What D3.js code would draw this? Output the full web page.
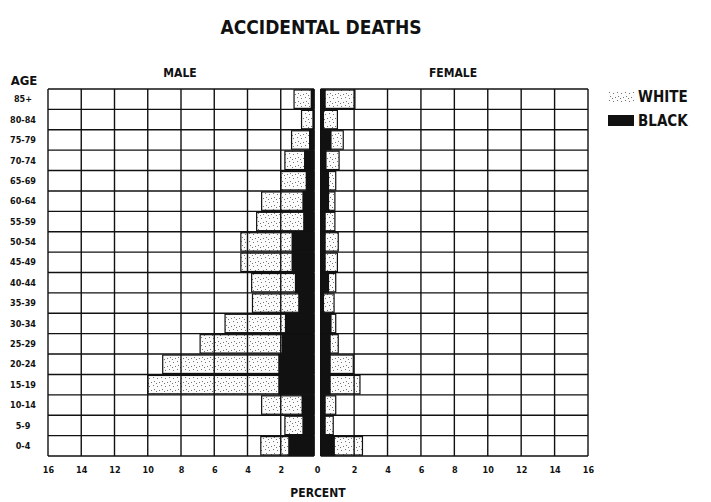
<!DOCTYPE html>
<html>
<head>
<meta charset="utf-8">
<script src="https://cdn.jsdelivr.net/npm/d3@7"></script>
<style>
  body { margin: 0; background: #fff; }
  text { font-family: "DejaVu Sans Condensed", "Liberation Sans Narrow", sans-serif; font-weight: bold; fill: #111; }
</style>
</head>
<body>
<svg width="711" height="502"></svg>
<script>
// age groups, top to bottom
var ages = ["85+", "80-84", "75-79", "70-74", "65-69", "60-64", "55-59", "50-54", "45-49",
            "40-44", "35-39", "30-34", "25-29", "20-24", "15-19", "10-14", "5-9", "0-4"];

// percent of deaths
var maleWhite   = [1.2, 0.75, 1.35, 1.75, 2.0, 3.15, 3.45, 4.4, 4.4, 3.75, 3.7, 5.35, 6.85, 9.1, 10.0, 3.15, 1.75, 3.2];
var maleBlack   = [0.2, 0.1, 0.3, 0.6, 0.5, 0.7, 0.65, 1.35, 1.35, 1.15, 0.95, 1.75, 1.95, 2.15, 2.15, 0.75, 0.7, 1.55];
var femaleWhite = [2.05, 1.0, 1.35, 1.1, 0.9, 0.85, 0.85, 1.05, 1.0, 0.9, 0.8, 0.9, 1.05, 1.95, 2.35, 0.9, 0.75, 2.5];
var femaleBlack = [0.3, 0.2, 0.65, 0.35, 0.5, 0.5, 0.3, 0.3, 0.3, 0.5, 0.2, 0.65, 0.6, 0.6, 0.6, 0.3, 0.3, 0.85];

var ticks = [0, 2, 4, 6, 8, 10, 12, 14, 16];

var svg = d3.select("svg");

// stipple pattern for the white bars (light, sparse dots)
var defs = svg.append("defs");
var pat = defs.append("pattern")
    .attr("id", "stipple")
    .attr("patternUnits", "userSpaceOnUse")
    .attr("width", 8).attr("height", 8);
pat.append("rect").attr("width", 8).attr("height", 8).attr("fill", "#fbfbfb");
[[1, 1], [5, 2], [2, 5], [7, 6], [4, 7]].forEach(function(p) {
  pat.append("rect").attr("x", p[0]).attr("y", p[1]).attr("width", 1).attr("height", 1).attr("fill", "#777");
});

// scales: male grows to the left, female to the right
var xMale = d3.scaleLinear().domain([0, 16]).range([314, 48]),
    xFemale = d3.scaleLinear().domain([0, 16]).range([320.7, 588]),
    y = d3.scaleBand().domain(ages).range([89, 456]).padding(0);

var rows = ages.map(function(a, i) {
  return {age: a, mw: maleWhite[i], mb: maleBlack[i], fw: femaleWhite[i], fb: femaleBlack[i]};
});

// white bars
svg.append("g").selectAll("rect").data(rows).enter().append("rect")
    .attr("x", function(d) { return xMale(d.mw); })
    .attr("y", function(d) { return y(d.age) + 1; })
    .attr("width", function(d) { return xMale(0) - xMale(d.mw); })
    .attr("height", y.bandwidth() - 2)
    .attr("fill", "url(#stipple)")
    .attr("stroke", "#111").attr("stroke-width", 1.2);

svg.append("g").selectAll("rect").data(rows).enter().append("rect")
    .attr("x", xFemale(0))
    .attr("y", function(d) { return y(d.age) + 1; })
    .attr("width", function(d) { return xFemale(d.fw) - xFemale(0); })
    .attr("height", y.bandwidth() - 2)
    .attr("fill", "url(#stipple)")
    .attr("stroke", "#111").attr("stroke-width", 1.2);

// grid for both panels
function grid(x, x0, x1) {
  var g = svg.append("g").attr("stroke", "#111").attr("stroke-width", 1.4);
  g.selectAll("line.v").data(ticks).enter().append("line")
      .attr("x1", function(d) { return x(d); }).attr("x2", function(d) { return x(d); })
      .attr("y1", y.range()[0]).attr("y2", y.range()[1]);
  g.selectAll("line.h").data(d3.range(ages.length + 1)).enter().append("line")
      .attr("x1", x0).attr("x2", x1)
      .attr("y1", function(i) { return y.range()[0] + i * y.step(); })
      .attr("y2", function(i) { return y.range()[0] + i * y.step(); });
}
grid(xMale, xMale(16), xMale(0));
grid(xFemale, xFemale(0), xFemale(16));

// black bars on top
svg.append("g").selectAll("rect").data(rows).enter().append("rect")
    .attr("x", function(d) { return xMale(d.mb); })
    .attr("y", function(d) { return y(d.age); })
    .attr("width", function(d) { return xMale(0) - xMale(d.mb); })
    .attr("height", y.bandwidth())
    .attr("fill", "#111");

svg.append("g").selectAll("rect").data(rows).enter().append("rect")
    .attr("x", xFemale(0))
    .attr("y", function(d) { return y(d.age); })
    .attr("width", function(d) { return xFemale(d.fb) - xFemale(0); })
    .attr("height", y.bandwidth())
    .attr("fill", "#111");

// age labels
svg.append("g").selectAll("text").data(ages).enter().append("text")
    .attr("x", 23)
    .attr("y", function(d) { return y(d) + y.bandwidth() / 2; })
    .attr("dy", "0.35em")
    .attr("text-anchor", "middle")
    .style("font-size", "9px")
    .text(function(d) { return d; });

// percent axes
var axMale = svg.append("g")
    .attr("transform", "translate(0,464)")
    .call(d3.axisBottom(xMale).tickValues(ticks).tickSize(0).tickFormat(d3.format("d")));
var axFemale = svg.append("g")
    .attr("transform", "translate(0,464)")
    .call(d3.axisBottom(xFemale).tickValues(ticks.slice(1)).tickSize(0).tickFormat(d3.format("d")));
[axMale, axFemale].forEach(function(ax) {
  ax.select(".domain").remove();
  ax.selectAll("text")
      .attr("font-family", null)
      .style("font-size", "9px");
});
axMale.selectAll(".tick").filter(function(d) { return d === 0; })
    .attr("transform", "translate(317.5,0)");

// titles
svg.append("text")
    .attr("x", 321).attr("y", 34)
    .attr("text-anchor", "middle")
    .style("font-size", "19px")
    .text("ACCIDENTAL DEATHS");

svg.append("text").attr("x", 180).attr("y", 77).attr("text-anchor", "middle")
    .style("font-size", "12px").text("MALE");
svg.append("text").attr("x", 453).attr("y", 77).attr("text-anchor", "middle")
    .style("font-size", "12px").text("FEMALE");
svg.append("text").attr("x", 24).attr("y", 85).attr("text-anchor", "middle")
    .style("font-size", "13px").text("AGE");
svg.append("text").attr("x", 318).attr("y", 497).attr("text-anchor", "middle")
    .style("font-size", "12px").text("PERCENT");

// legend
var legend = [{name: "WHITE", fill: "url(#stipple)"}, {name: "BLACK", fill: "#111"}];
var lg = svg.append("g").selectAll("g").data(legend).enter().append("g")
    .attr("transform", function(d, i) { return "translate(608," + (91 + i * 24) + ")"; });
lg.append("rect").attr("width", 26).attr("height", 11).attr("fill", function(d) { return d.fill; });
lg.append("text").attr("x", 30).attr("y", 11)
    .style("font-size", "15px")
    .text(function(d) { return d.name; });
</script>
</body>
</html>
